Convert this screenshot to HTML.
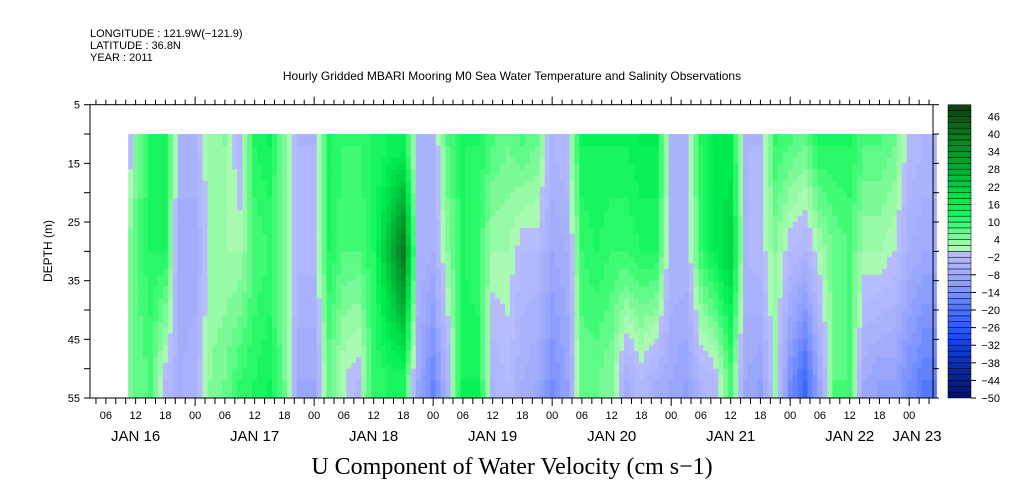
<!DOCTYPE html>
<html><head><meta charset="utf-8"><style>
body{margin:0;background:#fff;}
svg{display:block;font-family:"Liberation Sans",sans-serif;}
</style></head><body>
<svg id="chart" width="1009" height="504" viewBox="0 0 1009 504" xmlns="http://www.w3.org/2000/svg">
<rect width="1009" height="504" fill="#fff"/>
<text x="90" y="37" font-size="11">LONGITUDE : 121.9W(−121.9)</text>
<text x="90" y="49" font-size="11">LATITUDE : 36.8N</text>
<text x="90" y="61" font-size="11">YEAR : 2011</text>
<text x="512" y="80" font-size="12" text-anchor="middle">Hourly Gridded MBARI Mooring M0 Sea Water Temperature and Salinity Observations</text>
<g id="heat"></g>
<g id="axes"></g>
<g id="cbar"></g>
<text transform="translate(52,251) rotate(-90)" font-size="12" text-anchor="middle">DEPTH (m)</text>
<text x="512" y="474" font-size="24" font-family="Liberation Serif, serif" text-anchor="middle">U Component of Water Velocity (cm s−1)</text>
</svg>
<script>
// hours since Jan 16 00:00
const times =   [10.5,12,15,18,21,24,27,30,33,36,39,42,45,48,51,54,57,60,63,66,69,72,75,78,81,84,87,90,93,96,99,102,105,108,111,114,117,120,123,126,129,132,135,138,141,144,147,150,153,156,159,162,165,168,171,173];
const topVals = [-4, 4,12,12,-4,-4, 3, 4,-3,12,14, 4,-4,-4,12,10,10,12,14,14,-4,-4, 8,12,12, 8, 6, 8, 6,-4,-2, 14, 14, 14, 14, 16, 16, -4, -4, 12, 16, 16, -4, -4, 10,  8,  6, 12, 12, 12,  8,  8,  6, -2, -4, -4];
const midVals = [ 4, 8,12,12,-8,-8, 2, 2, 2, 8,10, 4,-3,-3,12, 8, 8,12,25,40,-4,-6, 4,12,10, 2, 2,-2,-2,-8,-6, 10, 12, 10, 10, 12, 12, -4, -4, 10, 16, 22, -4, -2,  4, -2, -4,  2,  6,  8,  2,  2,  0, -6, -8, -8];
const botVals = [ 4, 6, 8,-2,-6,-4, 4, 6,10,12,14, 6,-8,-8, 6, 0,-2,10,12,12,-8,-16,-4,14,14,-4,-2,-6,-8,-14,-10, 6,  6,  4, -6, -2, -6, -8,-10, -4, -2,  8, -8,-10,  2,-14,-22, -8,  8,  8, -8,-10,-10,-14,-18,-18];
const depthLevels = [12, 30, 52];
const yTicks = [5,10,15,20,25,30,35,40,45,50,55];
const yLabels = [5,15,25,35,45,55];
const cbLabels = [46,40,34,28,22,16,10,4,-2,-8,-14,-20,-26,-32,-38,-44,-50];
const dayNames = ["JAN 16","JAN 17","JAN 18","JAN 19","JAN 20","JAN 21","JAN 22","JAN 23"];

const NS="http://www.w3.org/2000/svg";
const X0=90,X1=933,Y0=104.7,Y1=398;
const T0=2.8,T1=172.8,D0=5,D1=55;
const xs=t=>X0+(t-T0)/(T1-T0)*(X1-X0);
const ys=d=>Y0+(d-D0)/(D1-D0)*(Y1-Y0);
function mk(tag,attrs,parent){const e=document.createElementNS(NS,tag);for(const k in attrs)e.setAttribute(k,attrs[k]);parent.appendChild(e);return e;}
const stops=[[50,[10,60,15]],[40,[10,120,30]],[28,[0,175,50]],[16,[0,240,80]],[10,[50,250,110]],[4,[140,250,160]],[0,[180,250,185]],[-0.01,[185,190,252]],[-8,[160,170,252]],[-14,[120,145,255]],[-20,[75,115,255]],[-26,[40,90,255]],[-32,[15,65,225]],[-38,[10,48,180]],[-44,[8,32,140]],[-50,[0,16,105]]];
function color(v){
  v=Math.max(-50,Math.min(50,v));
  v=v>=0?Math.floor(v/2)*2+1:Math.ceil(v/2)*2-1;
  for(let i=0;i<stops.length-1;i++){const a=stops[i],b=stops[i+1];
    if(v<=a[0]&&v>=b[0]){const f=(a[0]-v)/(a[0]-b[0]||1);const c=a[1].map((q,j)=>Math.round(q+(b[1][j]-q)*f));return`rgb(${c})`;}}
  return"rgb(0,16,105)";
}
function sampleCol(vals,t){
  for(let i=0;i<times.length-1;i++){if(t>=times[i]&&t<=times[i+1]){const f=(t-times[i])/(times[i+1]-times[i]);return vals[i]+(vals[i+1]-vals[i])*f;}}
  return vals[vals.length-1];
}
function field(t,d){
  const a=sampleCol(topVals,t),b=sampleCol(midVals,t),c=sampleCol(botVals,t);
  if(d<=depthLevels[0])return a;
  if(d<=depthLevels[1])return a+(b-a)*(d-depthLevels[0])/(depthLevels[1]-depthLevels[0]);
  if(d<=depthLevels[2])return b+(c-b)*(d-depthLevels[1])/(depthLevels[2]-depthLevels[1]);
  return c;
}
const heat=document.getElementById('heat');
for(let t=times[0];t<T1;t+=1){
  for(let d=10;d<55;d+=1){
    const r=mk('rect',{x:xs(t).toFixed(2),y:ys(d).toFixed(2),width:(xs(t+1)-xs(t)+0.4).toFixed(2),height:(ys(d+1)-ys(d)+0.4).toFixed(2),fill:color(field(t+0.5,d+0.5))},heat);
    
    
  }
}
const ax=document.getElementById('axes');
const fr=mk('rect',{x:X0,y:Y0,width:X1-X0,height:Y1-Y0,fill:'none',stroke:'#000','stroke-width':1},ax);


for(let h=4;h<=172;h+=2){
  const x=xs(h);const big=h%24===0;
  mk('line',{x1:x,y1:Y1,x2:x,y2:Y1+(big?8:6),stroke:'#000'},ax);
  mk('line',{x1:x,y1:Y0,x2:x,y2:Y0-(big?8:5),stroke:'#000'},ax);
  if(h%6===0){
    const l=mk('text',{x:x,y:Y1+21,'font-size':11,'text-anchor':'middle'},ax);
    l.textContent=String(h%24).padStart(2,'0');
    
    
  }
}
dayNames.forEach((n,i)=>{
  let c=xs(i*24+12);if(c>X1-16)c=X1-16;
  const l=mk('text',{x:c,y:Y1+43,'font-size':15,'text-anchor':'middle'},ax);
  l.textContent=n;
  
  
});
yTicks.forEach(d=>{
  mk('line',{x1:X0-6,y1:ys(d),x2:X0,y2:ys(d),stroke:'#000'},ax);
  mk('line',{x1:X1,y1:ys(d),x2:X1+6,y2:ys(d),stroke:'#000'},ax);
});
yLabels.forEach(d=>{
  const l=mk('text',{x:X0-10,y:ys(d)+4,'font-size':11,'text-anchor':'end'},ax);
  l.textContent=d;
  
  
});
const cb=document.getElementById('cbar');
const CX=948,CW=23;
for(let v=-50;v<50;v+=2){
  const yA=Y1-(v+50)/100*(Y1-Y0),yB=Y1-(v+52)/100*(Y1-Y0);
  const r=mk('rect',{x:CX,y:yB,width:CW,height:yA-yB,fill:color(v+1),stroke:'#000','stroke-width':0.5},cb);
  
  
}
cbLabels.forEach(v=>{
  const y=Y1-(v+50)/100*(Y1-Y0);
  if(v<=-8) mk('line',{x1:CX+CW,y1:y,x2:CX+CW+5,y2:y,stroke:'#000'},cb);
  const l=mk('text',{x:1000,y:y+4,'font-size':11,'text-anchor':'end'},cb);
  l.textContent=v<0?'−'+(-v):v;
  
  
});
</script>
</body></html>
